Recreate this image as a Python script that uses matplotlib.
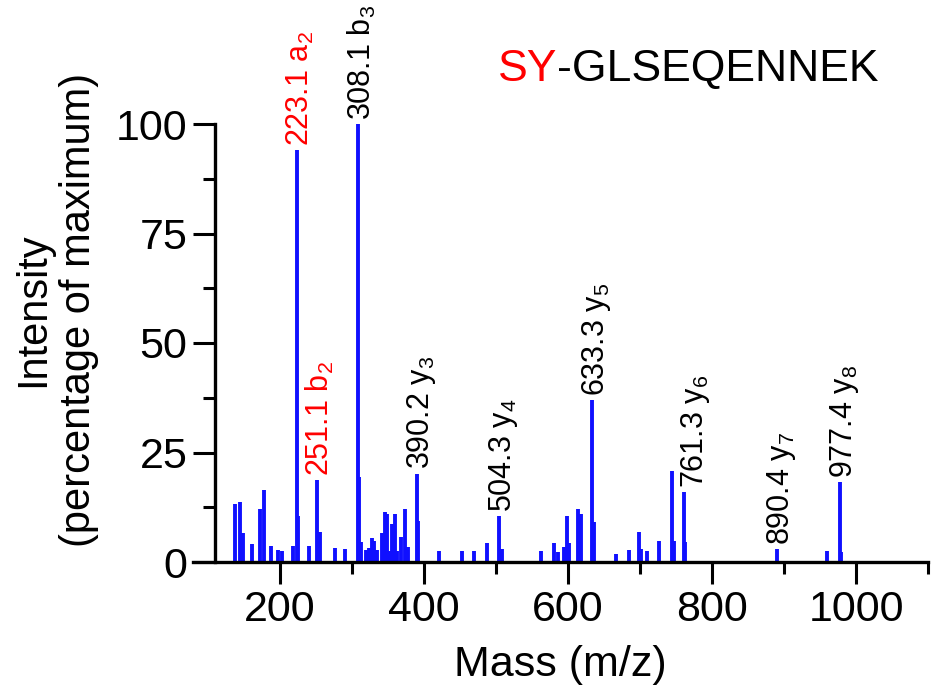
import numpy as np
import matplotlib
matplotlib.use("Agg")
import matplotlib.pyplot as plt

plt.rcParams['font.family'] = ['Liberation Sans', 'DejaVu Sans']
plt.rcParams['mathtext.default'] = 'regular'

# picos (m/z, intensidad %)
masses = [137, 144, 149, 161, 172, 178, 188, 197, 202, 218,
          223.1, 225, 240, 251.1, 256, 276, 290, 308.1, 309.6, 313,
          319, 324, 327, 330, 334, 342, 345.5, 349, 351, 355,
          359, 362, 368, 373, 377, 390.2, 392, 421, 452, 469,
          487, 504.3, 508, 562, 580, 586, 595, 599, 602, 614,
          618, 633.3, 636, 666, 685, 699, 702, 710, 727, 745,
          747, 761.3, 763, 890.4, 960, 977.4, 979]
intens = [13.2, 13.7, 6.6, 4.0, 12.0, 16.5, 3.7, 2.8, 2.4, 3.7,
          94, 10.5, 3.7, 18.7, 6.8, 3.3, 3.0, 100, 19.5, 4.6,
          2.7, 3.3, 5.4, 4.8, 2.7, 6.7, 11.5, 11.0, 2.4, 8.7,
          11.0, 2.4, 5.8, 12.0, 3.5, 20.2, 9.4, 2.4, 2.4, 2.4,
          4.3, 10.5, 3.0, 2.4, 4.3, 2.3, 3.5, 10.5, 4.3, 12.2,
          11.0, 37, 9.2, 1.8, 2.7, 6.8, 3.0, 2.4, 4.9, 20.8,
          4.9, 16.0, 4.6, 2.9, 2.4, 18.3, 2.3]

# etiquetas de iones
lab_mz = [223.1, 251.1, 308.1, 390.2, 504.3, 633.3, 761.3, 890.4, 977.4]
lab_int = [94, 18.7, 100, 20.2, 10.5, 37, 16.0, 2.9, 18.3]
lab_ion = ["a_2", "b_2", "b_3", "y_3", "y_4", "y_5", "y_6", "y_7", "y_8"]
lab_col = ["red", "red", "black", "black", "black", "black", "black", "black", "black"]

fig = plt.figure(figsize=(9.33, 6.94), dpi=100)
ax = fig.add_axes([193/933, 132/694, 735/933, 438/694])

ax.vlines(masses, 0, intens, color='#1010ff', linewidth=2.8)

ax.set_xlim(79, 1100)
ax.set_ylim(0, 100)
ax.spines['top'].set_visible(False)
ax.spines['right'].set_visible(False)
ax.spines['left'].set_position(('data', 110))
ax.spines['left'].set_bounds(0, 100)
for s in ['left', 'bottom']:
    ax.spines[s].set_linewidth(2.4)

ax.set_xticks([200, 400, 600, 800, 1000])
ax.set_xticks([300, 500, 700, 900, 1100], minor=True)
ax.set_yticks([0, 25, 50, 75, 100])
ax.set_yticks([12.5, 37.5, 62.5, 87.5], minor=True)
ax.tick_params(which='major', length=16, width=2.2, labelsize=31, pad=4)
ax.tick_params(which='minor', length=8.5, width=2.2)

ax.set_xlabel("Mass (m/z)", fontsize=31, labelpad=11)
fig.text(56/933, 1 - 310/694, "Intensity\n(percentage of maximum)", rotation=90,
         ha='center', va='center', fontsize=30, multialignment='center')

for m, v, ion, c in zip(lab_mz, lab_int, lab_ion, lab_col):
    dx = 5 if m == 761.3 else 0
    ax.annotate(f"{m:.1f} ${ion}$", xy=(m, v), xytext=(dx, 3),
                textcoords='offset points', rotation=90, rotation_mode='anchor',
                ha='left', va='center_baseline', color=c, fontsize=22,
                annotation_clip=False)

# titulo en dos colores
t1 = fig.text(498/933, 1 - 81/694, "SY", color='red', fontsize=32, va='baseline')
fig.canvas.draw()
bb = t1.get_window_extent()
fig.text(bb.x1 / fig.bbox.width, 1 - 81/694, "-GLSEQENNEK", color='black',
         fontsize=32, va='baseline')

plt.savefig("out.png", dpi=100)
